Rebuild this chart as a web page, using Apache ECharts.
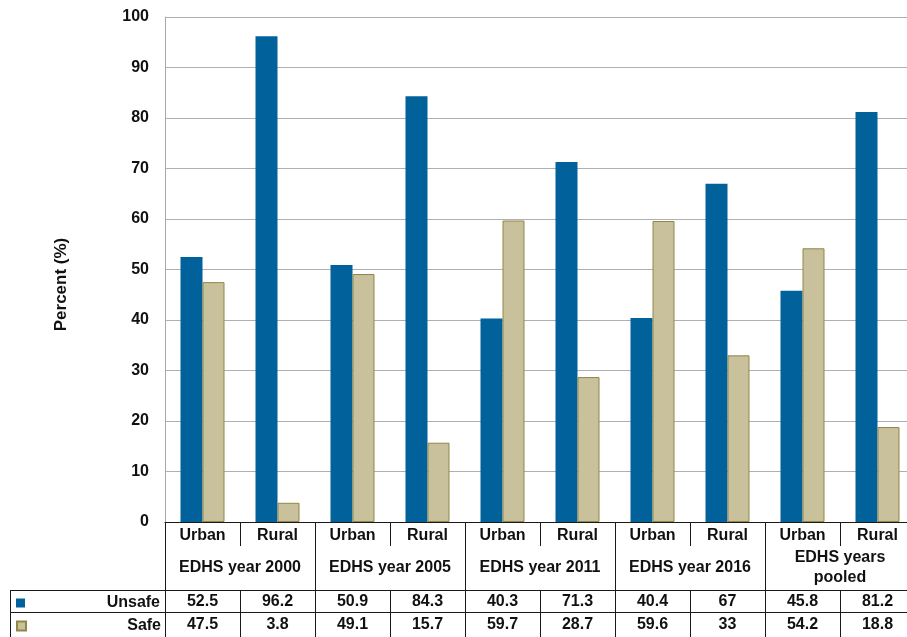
<!DOCTYPE html>
<html>
<head>
<meta charset="utf-8">
<script src="https://cdn.jsdelivr.net/npm/echarts@6/dist/echarts.min.js"></script>
<style>
  html, body { margin: 0; padding: 0; background: #fff; overflow: hidden; }
  body { width: 907px; height: 637px; }
  /* the plot runs a little past the right edge of the page */
  #chart { width: 915px; height: 637px; }
</style>
</head>
<body>
<div id="chart"></div>
<script>
// Residence type within each survey round
const residence = ['Urban', 'Rural', 'Urban', 'Rural', 'Urban', 'Rural', 'Urban', 'Rural', 'Urban', 'Rural'];
// Survey rounds (each spans two residence columns)
const surveys = ['EDHS year 2000', 'EDHS year 2005', 'EDHS year 2011', 'EDHS year 2016', 'EDHS years\npooled'];
// Percent of respondents per column
const unsafe = [52.5, 96.2, 50.9, 84.3, 40.3, 71.3, 40.4, 67, 45.8, 81.2];
const safe = [47.5, 3.8, 49.1, 15.7, 59.7, 28.7, 59.6, 33, 54.2, 18.8];
const yTicks = { min: 0, max: 100, step: 10 };

const BLUE = '#00619b';
const TAN = '#c8c19b';
const TAN_EDGE = '#8f8748';
const INK = '#1a1a1a';
const FONT = 'Liberation Sans, Arial, Helvetica, sans-serif';
const boldText = { fontFamily: FONT, fontWeight: 'bold', fontSize: 16, color: '#111' };

const chart = echarts.init(document.getElementById('chart'), null, { renderer: 'canvas' });

const gridLeft = 165, gridTop = 17, gridBottom = 115, gridRight = 0;

// one legend block per table row, text right-aligned against the first column line
function rowLegend(name, top) {
  return {
    orient: 'horizontal',
    left: 11,
    top: top,
    itemWidth: 9,
    itemHeight: 9,
    icon: 'rect',
    selectedMode: false,
    data: [name],
    formatter: (n) => '{t|' + n + '}',
    textStyle: {
      rich: {
        t: Object.assign({}, boldText, { width: 130, align: 'right', lineHeight: 20 })
      }
    }
  };
}

const option = {
  animation: false,
  backgroundColor: '#fff',
  grid: { left: gridLeft, right: gridRight, top: gridTop, bottom: gridBottom, containLabel: false },
  legend: [rowLegend('Unsafe', 590), rowLegend('Safe', 613)],
  yAxis: {
    type: 'value',
    min: yTicks.min,
    max: yTicks.max,
    interval: yTicks.step,
    name: 'Percent (%)',
    nameLocation: 'middle',
    nameRotate: 90,
    nameGap: 95,
    nameTextStyle: { fontFamily: FONT, fontWeight: 'bold', fontSize: 17, color: '#111', padding: [0, 30, 0, 0] },
    axisLine: { show: true, lineStyle: { color: '#a8a8a8', width: 1 } },
    axisTick: { show: false },
    axisLabel: Object.assign({}, boldText, { margin: 16 }),
    splitLine: { show: true, lineStyle: { color: '#b0b0b0', width: 1 } }
  },
  xAxis: [
    {
      // Urban / Rural labels right under the bars
      type: 'category',
      data: residence,
      position: 'bottom',
      axisLine: { show: true, lineStyle: { color: INK, width: 1 } },
      axisTick: { show: true, interval: 0, length: 24, lineStyle: { color: INK } },
      axisLabel: Object.assign({}, boldText, { interval: 0, margin: 6 }),
      splitLine: { show: false }
    },
    {
      // Survey round labels; ticks run down through the whole table
      type: 'category',
      data: surveys,
      position: 'bottom',
      offset: 0,
      axisLine: { show: false },
      axisTick: { show: true, interval: 0, length: 116, lineStyle: { color: INK } },
      axisLabel: Object.assign({}, boldText, { interval: 0, margin: 46, verticalAlign: 'middle', lineHeight: 20 }),
      splitLine: { show: false }
    },
    {
      // Data table row: Unsafe
      type: 'category',
      data: residence,
      position: 'bottom',
      offset: 68,
      axisLine: { show: true, lineStyle: { color: INK, width: 1 } },
      axisTick: { show: true, interval: 0, length: 22, lineStyle: { color: INK } },
      axisLabel: Object.assign({}, boldText, {
        interval: 0, margin: 4,
        formatter: (v, i) => String(unsafe[i])
      }),
      splitLine: { show: false }
    },
    {
      // Data table row: Safe
      type: 'category',
      data: residence,
      position: 'bottom',
      offset: 90,
      axisLine: { show: true, lineStyle: { color: INK, width: 1 } },
      axisTick: { show: true, interval: 0, length: 26, lineStyle: { color: INK } },
      axisLabel: Object.assign({}, boldText, {
        interval: 0, margin: 5,
        formatter: (v, i) => String(safe[i])
      }),
      splitLine: { show: false }
    }
  ],
  series: [
    {
      name: 'Unsafe',
      type: 'bar',
      xAxisIndex: 0,
      data: unsafe,
      barWidth: 22,
      barGap: '0%',
      itemStyle: { color: BLUE }
    },
    {
      name: 'Safe',
      type: 'bar',
      xAxisIndex: 0,
      data: safe,
      barWidth: 22,
      barGap: '0%',
      itemStyle: { color: TAN, borderColor: TAN_EDGE, borderWidth: 1 }
    }
  ],
  graphic: [
    // frame of the legend column of the data table
    { type: 'line', shape: { x1: 10, y1: 590.5, x2: 165, y2: 590.5 }, style: { stroke: INK, lineWidth: 1 } },
    { type: 'line', shape: { x1: 10, y1: 612.5, x2: 165, y2: 612.5 }, style: { stroke: INK, lineWidth: 1 } },
    { type: 'line', shape: { x1: 10.5, y1: 590, x2: 10.5, y2: 637 }, style: { stroke: INK, lineWidth: 1 } }
  ]
};

chart.setOption(option);
</script>
</body>
</html>
